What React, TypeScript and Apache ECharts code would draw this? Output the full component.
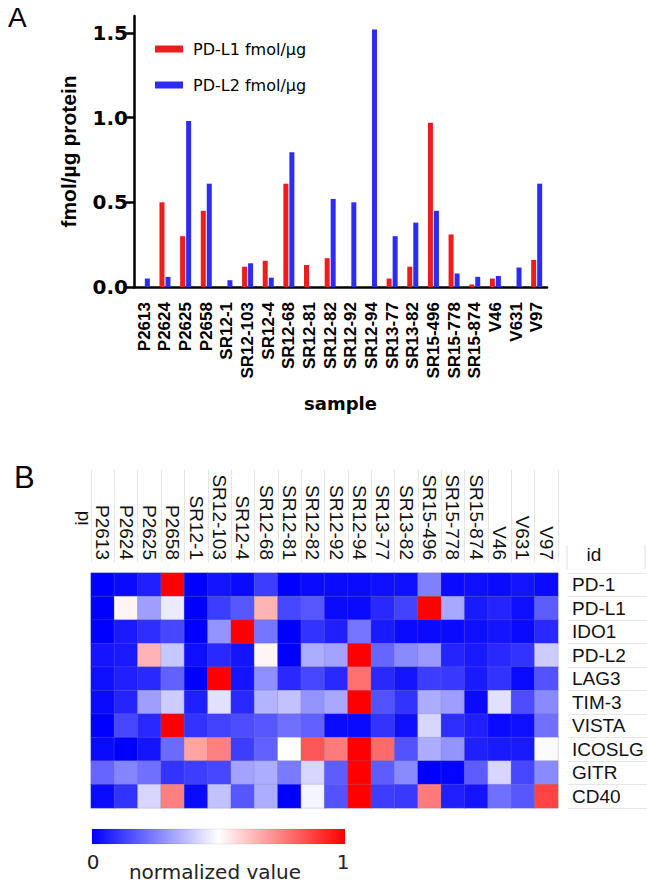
import React, { useEffect, useRef } from 'react';
import * as echarts from 'echarts';

const samples = ['P2613', 'P2624', 'P2625', 'P2658', 'SR12-1', 'SR12-103', 'SR12-4', 'SR12-68', 'SR12-81', 'SR12-82', 'SR12-92', 'SR12-94', 'SR13-77', 'SR13-82', 'SR15-496', 'SR15-778', 'SR15-874', 'V46', 'V631', 'V97'];
const pdl1Values = [0, 0.50, 0.30, 0.45, 0, 0.12, 0.155, 0.61, 0.13, 0.17, 0, 0, 0.05, 0.12, 0.97, 0.31, 0.015, 0.05, 0, 0.16];
const pdl2Values = [0.05, 0.06, 0.98, 0.61, 0.04, 0.14, 0.055, 0.795, 0, 0.52, 0.50, 1.52, 0.30, 0.38, 0.45, 0.08, 0.06, 0.065, 0.115, 0.61];
const yTicks = [0, 0.5, 1.0, 1.5];

const genes = ['PD-1', 'PD-L1', 'IDO1', 'PD-L2', 'LAG3', 'TIM-3', 'VISTA', 'ICOSLG', 'GITR', 'CD40'];
const heatPD1 = [0, 0.02, 0.06, 1, 0, 0.04, 0.02, 0.12, 0, 0.02, 0.02, 0.02, 0.03, 0.03, 0.25, 0.02, 0.03, 0.02, 0.04, 0.02];
const heatPDL1 = [0, 0.52, 0.31, 0.46, 0, 0.12, 0.17, 0.65, 0.14, 0.17, 0.02, 0.02, 0.08, 0.13, 1, 0.33, 0.05, 0.07, 0.03, 0.18];
const heatIDO1 = [0, 0.05, 0.09, 0.14, 0, 0.29, 1, 0.23, 0, 0.1, 0.06, 0.23, 0.05, 0.02, 0.02, 0.02, 0.03, 0.04, 0.02, 0.08];
const heatPDL2 = [0.04, 0.05, 0.65, 0.39, 0.03, 0.08, 0.04, 0.52, 0, 0.34, 0.32, 1, 0.2, 0.27, 0.3, 0.07, 0.05, 0.08, 0.1, 0.4];
const heatLAG3 = [0.03, 0.06, 0.08, 0.19, 0, 1, 0.04, 0.28, 0.08, 0.14, 0.08, 0.78, 0.08, 0.04, 0.12, 0.11, 0.05, 0.1, 0.02, 0.16];
const heatTIM3 = [0.02, 0.07, 0.31, 0.4, 0.06, 0.44, 0.08, 0.35, 0.38, 0.29, 0.33, 1, 0.16, 0.1, 0.34, 0.31, 0.02, 0.44, 0.15, 0.27];
const heatVISTA = [0, 0.14, 0.08, 1, 0.1, 0.13, 0.15, 0.17, 0.22, 0.19, 0.02, 0.02, 0.1, 0.03, 0.42, 0.09, 0.06, 0.02, 0.03, 0.22];
const heatICOSLG = [0.02, 0, 0.04, 0.21, 0.68, 0.75, 0.12, 0.19, 0.5, 0.83, 0.76, 1, 0.79, 0.16, 0.34, 0.29, 0.06, 0.05, 0.05, 0.49];
const heatGITR = [0.2, 0.26, 0.22, 0.1, 0.12, 0.14, 0.32, 0.34, 0.24, 0.42, 0.18, 1, 0.18, 0.27, 0, 0.01, 0.18, 0.42, 0.14, 0.27];
const heatCD40 = [0.02, 0.1, 0.42, 0.75, 0.02, 0.38, 0.17, 0.34, 0, 0.48, 0.16, 1, 0.12, 0.11, 0.76, 0.06, 0.04, 0.22, 0.17, 0.87];
const heatRows = [heatPD1, heatPDL1, heatIDO1, heatPDL2, heatLAG3, heatTIM3, heatVISTA, heatICOSLG, heatGITR, heatCD40];

export default function App() {
  const ref = useRef<HTMLDivElement>(null);
  useEffect(() => {
    const chart = echarts.init(ref.current!, null, { renderer: 'svg' });
    const heatData: number[][] = [];
    heatRows.forEach((row, gi) => row.forEach((v, si) => heatData.push([si, gi, v])));
    const black = '#000';
    chart.setOption({
      animation: false,
      backgroundColor: '#fff',
      grid: [
        { left: 134, top: 16, width: 413, height: 271 },
        { left: 91, top: 573, width: 467, height: 235 },
      ],
      legend: {
        left: 150,
        top: 36,
        orient: 'vertical',
        icon: 'rect',
        itemWidth: 28,
        itemHeight: 7,
        itemGap: 20,
        textStyle: { fontFamily: 'DejaVu Sans', fontSize: 16, color: black, padding: [0, 0, 0, 5] },
        data: ['PD-L1 fmol/µg', 'PD-L2 fmol/µg'],
      },
      xAxis: [
        {
          gridIndex: 0,
          type: 'category',
          data: samples,
          boundaryGap: true,
          axisLine: { lineStyle: { color: black, width: 2.5 } },
          axisTick: { alignWithLabel: true, interval: 0, length: 10, lineStyle: { color: black, width: 2.5 } },
          axisLabel: { interval: 0, rotate: 90, margin: 15, fontFamily: 'Liberation Sans', fontWeight: 'bold', fontSize: 17, color: black },
          name: 'sample',
          nameLocation: 'middle',
          nameGap: 116,
          nameTextStyle: { fontFamily: 'DejaVu Sans', fontWeight: 'bold', fontSize: 18, color: black, verticalAlign: 'middle' },
        },
        {
          gridIndex: 1,
          type: 'category',
          data: samples,
          position: 'top',
          offset: 11,
          axisLine: { show: false },
          axisTick: { show: true, interval: 0, length: 92, lineStyle: { color: '#e6e6e6', width: 1 } },
          axisLabel: { interval: 0, rotate: 90, margin: 2, fontFamily: 'Liberation Sans', fontSize: 19, color: '#111' },
        },
      ],
      yAxis: [
        {
          gridIndex: 0,
          type: 'value',
          min: 0,
          max: 1.6,
          axisLine: { show: true, lineStyle: { color: black, width: 2.5 } },
          axisTick: { show: true, customValues: yTicks, length: 8, lineStyle: { color: black, width: 2.5 } },
          axisLabel: {
            customValues: yTicks,
            formatter: (v: number) => v.toFixed(1),
            margin: 6,
            fontFamily: 'DejaVu Sans',
            fontWeight: 'bold',
            fontSize: 20,
            color: black,
          },
          splitLine: { show: false },
          name: 'fmol/µg protein',
          nameLocation: 'middle',
          nameGap: 66,
          nameTextStyle: { fontFamily: 'Liberation Sans', fontWeight: 'bold', fontSize: 21, color: black, verticalAlign: 'middle' },
        },
        {
          gridIndex: 1,
          type: 'category',
          data: genes,
          inverse: true,
          position: 'right',
          offset: 10,
          axisLine: { show: false },
          axisTick: { show: true, interval: 0, length: 80, lineStyle: { color: '#e6e6e6', width: 1 } },
          axisLabel: { interval: 0, margin: 4, fontFamily: 'Liberation Sans', fontSize: 19, color: '#111' },
        },
      ],
      visualMap: {
        type: 'continuous',
        min: 0,
        max: 1,
        show: false,
        seriesIndex: 2,
        inRange: { color: ['#0000ff', '#ffffff', '#ff0000'] },
      },
      series: [
        {
          type: 'bar',
          name: 'PD-L1 fmol/µg',
          xAxisIndex: 0,
          yAxisIndex: 0,
          data: pdl1Values,
          barWidth: 5,
          barGap: '20%',
          itemStyle: { color: '#ee1c1c' },
        },
        {
          type: 'bar',
          name: 'PD-L2 fmol/µg',
          xAxisIndex: 0,
          yAxisIndex: 0,
          data: pdl2Values,
          barWidth: 5,
          barGap: '20%',
          itemStyle: { color: '#2c2cf6' },
        },
        {
          type: 'heatmap',
          xAxisIndex: 1,
          yAxisIndex: 1,
          data: heatData,
          itemStyle: { borderColor: 'rgba(120,120,170,0.25)', borderWidth: 1 },
          emphasis: { disabled: true },
        },
      ],
      graphic: [
        { type: 'text', left: 8, top: 3, style: { text: 'A', font: '28px "Liberation Sans"', fill: black } },
        { type: 'text', left: 14, top: 462, style: { text: 'B', font: '31px "Liberation Sans"', fill: black } },
        { type: 'text', x: 81, y: 518, rotation: Math.PI / 2, style: { text: 'id', font: '19px "Liberation Sans"', fill: '#111', align: 'center', verticalAlign: 'middle' } },
        { type: 'text', x: 594, y: 554, style: { text: 'id', font: '19px "Liberation Sans"', fill: '#111', align: 'center', verticalAlign: 'middle' } },
        { type: 'line', shape: { x1: 567, y1: 545, x2: 567, y2: 569 }, style: { stroke: '#e0e0e0', lineWidth: 1 } },
        { type: 'line', shape: { x1: 645, y1: 545, x2: 645, y2: 569 }, style: { stroke: '#e0e0e0', lineWidth: 1 } },
        {
          type: 'rect',
          shape: { x: 92, y: 829, width: 253, height: 15 },
          style: {
            fill: new echarts.graphic.LinearGradient(0, 0, 1, 0, [
              { offset: 0, color: '#0000ff' },
              { offset: 0.5, color: '#ffffff' },
              { offset: 1, color: '#ff0000' },
            ]),
            stroke: 'rgba(0,0,0,0.08)',
            lineWidth: 1,
          },
        },
        { type: 'text', x: 93, y: 862, style: { text: '0', font: '20px "DejaVu Sans"', fill: '#222', align: 'center', verticalAlign: 'middle' } },
        { type: 'text', x: 343, y: 862, style: { text: '1', font: '20px "DejaVu Sans"', fill: '#222', align: 'center', verticalAlign: 'middle' } },
        { type: 'text', x: 215, y: 872, style: { text: 'normalized value', font: '20px "DejaVu Sans"', fill: '#222', align: 'center', verticalAlign: 'middle' } },
      ],
    });
    return () => chart.dispose();
  }, []);
  return <div ref={ref} style={{ position: 'fixed', left: 0, top: 0, width: 647, height: 883, background: '#fff' }} />;
}
